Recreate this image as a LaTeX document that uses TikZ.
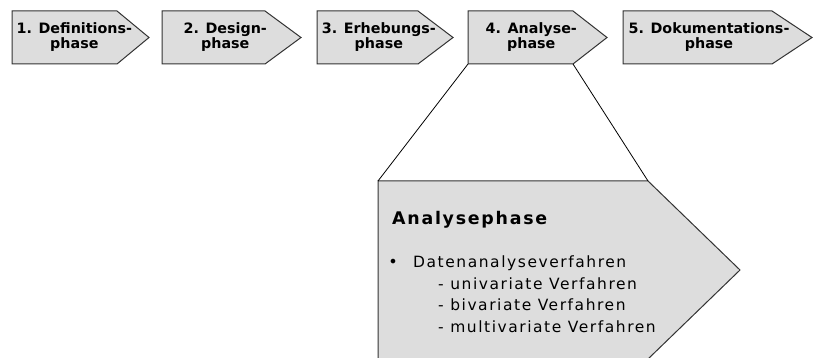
\documentclass[tikz,border=0pt]{standalone}
\usepackage{fontspec}
\setmainfont{DejaVu Sans}
\newfontfamily\titlefont[LetterSpace=10]{DejaVu Sans}
\newfontfamily\listfont[LetterSpace=10]{DejaVu Sans}
\definecolor{boxfill}{HTML}{DDDDDD}
\definecolor{boxline}{HTML}{333333}
\newcommand\phaseshape[5]{%
  \draw[phasebox] (#2,11) coordinate (#1-tl) -- (#3,11) coordinate (#1-ts)
    -- (#4,37.5) coordinate (#1-tip) -- (#3,64) coordinate (#1-bs)
    -- (#2,64) coordinate (#1-bl) -- cycle;
  \node[phaselabel] (#1-text) at ({#2+0.455*(#4-#2)},37.5) {#5};
}
\begin{document}
\begin{tikzpicture}[x=1pt,y=-1pt,
  phasebox/.style={fill=boxfill,draw=boxline,line width=1pt,line join=miter},
  phaselabel/.style={font=\fontsize{14.3}{15}\selectfont\bfseries,align=center,inner sep=0pt},
  connector/.style={draw=black,line width=0.8pt},
  listtext/.style={anchor=base west,inner sep=0pt,font=\listfont\fontsize{15.5}{18}\selectfont}]
\useasboundingbox (0,0) rectangle (813,358);
\clip (0,0) rectangle (813,358);
\phaseshape{p1}{12}{117}{149}{1. Definitions-\\phase}
\phaseshape{p2}{162}{265}{301}{2. Design-\\phase}
\phaseshape{p3}{317}{418}{453}{3. Erhebungs-\\phase}
\phaseshape{p4}{468}{573}{607}{4. Analyse-\\phase}
\phaseshape{p5}{623}{772}{812}{5. Dokumentations-\\phase}
\draw[phasebox] (378,181) coordinate (big-tl) -- (648,181) coordinate (big-ts)
  -- (740,270) coordinate (big-tip) -- (648,359) coordinate (big-bs)
  -- (378,359) coordinate (big-bl) -- cycle;
\draw[connector] (p4-bl) -- (big-tl);
\draw[connector] (p4-bs) -- (big-ts);
\node[anchor=base west,inner sep=0pt,font=\titlefont\bfseries\fontsize{17.4}{20}\selectfont] (title) at (392,224) {Analysephase};
\node[anchor=base,inner sep=0pt,font=\fontsize{16}{18}\selectfont] (bullet) at (393,267) {•};
\node[listtext] (l1) at (413,267) {Datenanalyseverfahren};
\node[listtext] (l2) at (438,289) {- univariate Verfahren};
\node[listtext] (l3) at (438,310.5) {- bivariate Verfahren};
\node[listtext] (l4) at (438,332) {- multivariate Verfahren};
\end{tikzpicture}
\end{document}
